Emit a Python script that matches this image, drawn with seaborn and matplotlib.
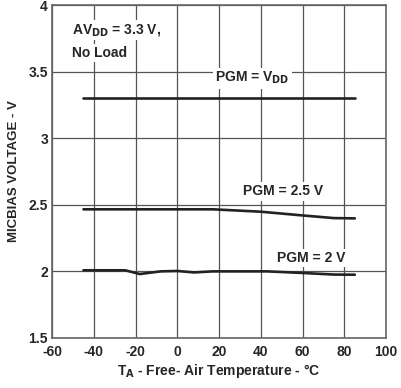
import matplotlib
matplotlib.use("Agg")
import matplotlib.pyplot as plt
import seaborn as sns
import pandas as pd

# Data
temp_vdd = [-45, 0, 40, 85]
mic_vdd = [3.30, 3.30, 3.30, 3.30]

temp_25 = [-45, -20, 0, 17, 40, 60, 75, 85]
mic_25 = [2.466, 2.466, 2.466, 2.466, 2.448, 2.42, 2.40, 2.398]

temp_2 = [-45, -25, -18, -8, 0, 8, 17, 43, 60, 75, 85]
mic_2 = [2.008, 2.008, 1.98, 2.0, 2.003, 1.992, 2.0, 2.0, 1.988, 1.976, 1.975]

series_labels = ["PGM = V$_{\\mathbf{DD}}$", "PGM = 2.5 V", "PGM = 2 V"]

df = pd.concat([
    pd.DataFrame({"temp": temp_vdd, "v": mic_vdd, "pgm": "vdd"}),
    pd.DataFrame({"temp": temp_25, "v": mic_25, "pgm": "2.5"}),
    pd.DataFrame({"temp": temp_2, "v": mic_2, "pgm": "2"}),
])

sns.set_style("white")
plt.rcParams["font.family"] = ["Liberation Sans", "DejaVu Sans"]
plt.rcParams["font.weight"] = "bold"
plt.rcParams["mathtext.default"] = "bf"
plt.rcParams["axes.unicode_minus"] = False

fig = plt.figure(figsize=(4.01, 3.88), dpi=100)
ax = fig.add_axes([0.13, 0.129, 0.833, 0.858])

sns.lineplot(data=df, x="temp", y="v", hue="pgm", palette=["#222222"] * 3,
             linewidth=1.9, legend=False, ax=ax, zorder=3)

ax.set_xlim(-60, 100)
ax.set_ylim(1.5, 4)
ax.set_xticks(range(-60, 101, 20))
ax.set_yticks([1.5, 2, 2.5, 3, 3.5, 4])
ax.set_yticklabels(["1.5", "2", "2.5", "3", "3.5", "4"])
for lab in ax.get_xticklabels() + ax.get_yticklabels():
    lab.set_fontweight("bold")
ax.grid(True, color="#555555", linewidth=0.9)
ax.tick_params(length=0, labelsize=10)
ax.tick_params(axis="x", pad=5)
ax.tick_params(axis="y", pad=3)
for s in ax.spines.values():
    s.set_color("#666666")
    s.set_linewidth(1.2)

ax.set_xlabel("T$_{\\mathbf{A}}$ - Free- Air Temperature - °C", fontsize=10, fontweight="bold", labelpad=2)
ax.set_ylabel("MICBIAS VOLTAGE - V", fontsize=9.5, fontweight="bold", labelpad=6)

box = dict(facecolor="white", edgecolor="none", pad=1.5)
ax.text(-50.5, 3.81, "AV$_{\\mathbf{DD}}$ = 3.3 V,", fontsize=10, fontweight="bold",
        va="center", ha="left", bbox=box, zorder=4)
ax.text(-50.5, 3.64, "No Load", fontsize=10, fontweight="bold",
        va="center", ha="left", bbox=box, zorder=4)
ax.text(36, 3.45, series_labels[0], fontsize=10, fontweight="bold",
        va="center", ha="center", bbox=box, zorder=4)
ax.text(50.5, 2.6, series_labels[1], fontsize=10, fontweight="bold",
        va="center", ha="center", bbox=box, zorder=4)
ax.text(64, 2.1, series_labels[2], fontsize=10, fontweight="bold",
        va="center", ha="center", bbox=box, zorder=4)

fig.savefig("out.png", dpi=100)
